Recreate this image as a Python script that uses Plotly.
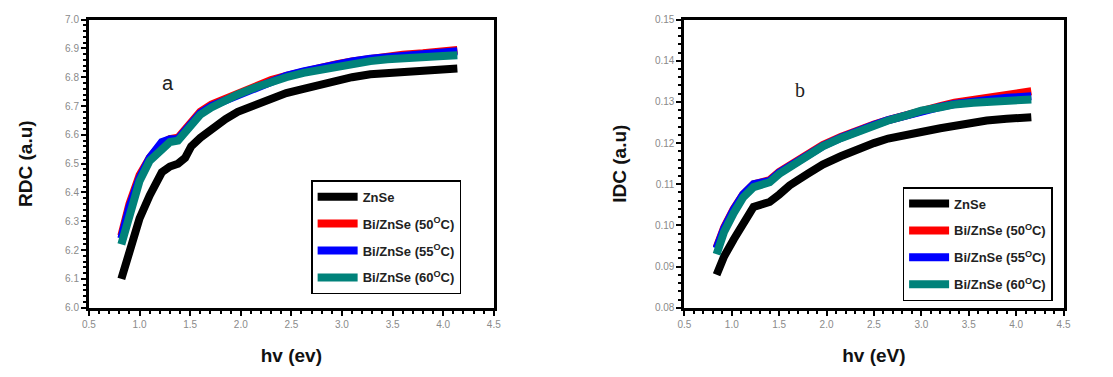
import plotly.graph_objects as go

# ---------- data ----------
hv_a = [0.82, 0.90, 1.00, 1.10, 1.22, 1.30, 1.38, 1.45, 1.51, 1.60, 1.71, 1.85, 1.97, 2.15, 2.30, 2.45, 2.62, 2.80, 2.95, 3.10, 3.28, 3.45, 3.60, 3.80, 4.00, 4.14]
rdc_znse = [6.10, 6.20, 6.31, 6.39, 6.47, 6.49, 6.50, 6.52, 6.56, 6.59, 6.62, 6.655, 6.68, 6.705, 6.724, 6.745, 6.76, 6.775, 6.79, 6.80, 6.81, 6.815, 6.82, 6.825, 6.828, 6.83]
rdc_50 = [6.25, 6.36, 6.46, 6.52, 6.57, 6.585, 6.59, 6.62, 6.65, 6.68, 6.705, 6.725, 6.745, 6.77, 6.79, 6.805, 6.82, 6.835, 6.845, 6.855, 6.865, 6.872, 6.878, 6.883, 6.89, 6.895]
rdc_55 = [6.24, 6.35, 6.45, 6.52, 6.575, 6.585, 6.585, 6.615, 6.645, 6.675, 6.70, 6.72, 6.742, 6.768, 6.789, 6.805, 6.82, 6.835, 6.845, 6.855, 6.864, 6.87, 6.875, 6.88, 6.886, 6.89]
rdc_60 = [6.22, 6.33, 6.44, 6.51, 6.555, 6.575, 6.58, 6.61, 6.64, 6.67, 6.695, 6.72, 6.74, 6.765, 6.786, 6.80, 6.815, 6.828, 6.838, 6.848, 6.856, 6.862, 6.867, 6.871, 6.874, 6.876]

hv_b = [0.84, 0.92, 1.02, 1.12, 1.23, 1.30, 1.40, 1.50, 1.61, 1.80, 1.96, 2.15, 2.31, 2.50, 2.65, 2.85, 3.00, 3.20, 3.35, 3.55, 3.69, 3.90, 4.05, 4.16]
idc_znse = [0.0880, 0.0925, 0.0966, 0.1005, 0.1045, 0.1050, 0.1057, 0.1075, 0.1097, 0.1125, 0.1148, 0.1168, 0.1184, 0.1200, 0.1211, 0.1222, 0.1227, 0.1236, 0.1243, 0.1250, 0.1255, 0.1259, 0.1262, 0.1263]
idc_50 = [0.0946, 0.0995, 0.1040, 0.1075, 0.1100, 0.1105, 0.1110, 0.1130, 0.1145, 0.1172, 0.1195, 0.1215, 0.1230, 0.1245, 0.1256, 0.1270, 0.1280, 0.1290, 0.1298, 0.1306, 0.1311, 0.1318, 0.1323, 0.1326]
idc_55 = [0.0944, 0.0993, 0.1038, 0.1075, 0.1100, 0.1103, 0.1108, 0.1128, 0.1143, 0.1170, 0.1193, 0.1213, 0.1229, 0.1244, 0.1256, 0.1269, 0.1279, 0.1288, 0.1295, 0.1302, 0.1306, 0.1310, 0.1312, 0.1314]
idc_60 = [0.0930, 0.0985, 0.1030, 0.1068, 0.1093, 0.1098, 0.1105, 0.1125, 0.1140, 0.1168, 0.1192, 0.1212, 0.1227, 0.1243, 0.1255, 0.1268, 0.1279, 0.1287, 0.1294, 0.1298, 0.1300, 0.1303, 0.1305, 0.1306]

names = ["ZnSe", "Bi/ZnSe (50<sup>O</sup>C)", "Bi/ZnSe (55<sup>O</sup>C)", "Bi/ZnSe (60<sup>O</sup>C)"]
colors = ["#000000", "#ff0000", "#0000ff", "#00827a"]

fig = go.Figure()
for i, ys in enumerate([rdc_znse, rdc_50, rdc_55, rdc_60]):
    fig.add_trace(go.Scatter(x=hv_a, y=ys, mode="lines", name="<b>" + names[i] + "</b>",
                             line=dict(color=colors[i], width=8),
                             xaxis="x", yaxis="y", legend="legend", legendgroup="a%d" % i))
for i, ys in enumerate([idc_znse, idc_50, idc_55, idc_60]):
    fig.add_trace(go.Scatter(x=hv_b, y=ys, mode="lines", name="<b>" + names[i] + "</b>",
                             line=dict(color=colors[i], width=8),
                             xaxis="x2", yaxis="y2", legend="legend2", legendgroup="b%d" % i))

tickfont = dict(family="Arial", size=10, color="#8a8a8a")
titlefont = dict(family="Arial", size=19, color="#111")
common = dict(showline=True, linewidth=3, linecolor="black", mirror=True, ticks="outside",
              ticklen=5, tickwidth=2, tickcolor="black", showgrid=False, zeroline=False,
              tickfont=tickfont, minor=dict(ticks="outside", ticklen=3, tickwidth=2, tickcolor="black"))

ydom = [1 - 311 / 377, 1 - 15 / 377]
legfont = dict(family="Arial", size=13, color="#222")
fig.update_layout(
    width=1113, height=377, margin=dict(l=0, r=0, t=0, b=0),
    plot_bgcolor="white", paper_bgcolor="white",
    xaxis=dict(domain=[83 / 1113, 493 / 1113], range=[0.5, 4.5], dtick=0.5, tickformat=".1f",
               title=dict(text="<b>hv (ev)</b>", font=titlefont, standoff=20), anchor="y", **common),
    yaxis=dict(domain=ydom, range=[6.0, 7.0], dtick=0.1, tickformat=".1f",
               title=dict(text="<b>RDC (a.u)</b>", font=titlefont, standoff=28), anchor="x", **common),
    xaxis2=dict(domain=[686 / 1113, 1070 / 1113], range=[0.5, 4.5], dtick=0.5, tickformat=".1f",
                title=dict(text="<b>hv (eV)</b>", font=titlefont, standoff=20), anchor="y2", **common),
    yaxis2=dict(domain=ydom, range=[0.08, 0.15], dtick=0.01, tickformat=".2f",
                title=dict(text="<b>IDC (a.u)</b>", font=titlefont, standoff=24), anchor="x2", **common),
    legend=dict(x=308 / 1113, y=1 - 180 / 377, xanchor="left", yanchor="top",
                bordercolor="black", borderwidth=1.5, bgcolor="white",
                font=legfont, itemwidth=40,
                tracegroupgap=7, traceorder="grouped"),
    legend2=dict(x=907 / 1113, y=1 - 187 / 377, xanchor="left", yanchor="top",
                 bordercolor="black", borderwidth=1.5, bgcolor="white",
                 font=legfont, itemwidth=40,
                 tracegroupgap=7, traceorder="grouped"),
    annotations=[
        dict(x=1.28, y=6.78, xref="x", yref="y", text="a", showarrow=False,
             font=dict(family="Arial", size=20, color="#222")),
        dict(x=1.72, y=0.133, xref="x2", yref="y2", text="b", showarrow=False,
             font=dict(family="Liberation Serif, Times New Roman", size=20, color="#222")),
    ],
)

fig.write_html("out.html")
